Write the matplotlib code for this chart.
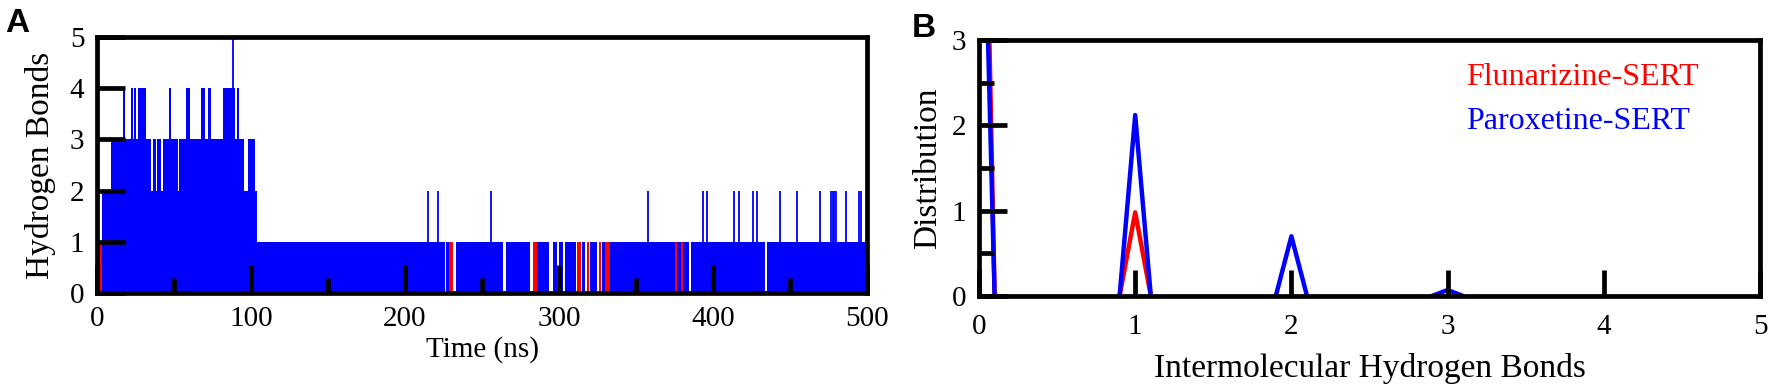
import numpy as np
import matplotlib.pyplot as plt
from matplotlib.ticker import MultipleLocator

# ---- Panel A: H-bond count vs time (step runs) ----
# Paroxetine-SERT, runs (start ns, end ns) at each level
parox_lvl2_runs = [(3.0, 103.7)]
parox_lvl3_runs = [(8.9, 35.0), (36.1, 38.3), (39.2, 41.3), (42.6, 52.4),
                   (53.5, 95.5), (98.3, 102.7)]
parox_lvl4_runs = [(16.7, 18.0), (22.0, 23.2), (24.3, 25.0), (26.8, 31.8),
                   (47.0, 48.3), (57.6, 60.4), (67.3, 70.1), (72.3, 73.8),
                   (82.0, 89.6), (91.1, 92.4)]
parox_lvl5_spikes = [88.5]
# level 1 from 103.7 ns to the end, with these drops to zero
parox_zero_gaps = [(225.8, 226.8), (228.5, 233.3), (263.8, 265.6), (281.2, 285.8),
                   (293.7, 295.9), (298.9, 300.2), (302.4, 303.9), (311.0, 314.8),
                   (316.9, 319.9), (324.5, 327.6), (329.6, 333.2), (375.2, 376.9),
                   (379.2, 380.8), (384.5, 386.0), (433.8, 435.3)]
parox_lvl2_spikes = [215.2, 221.6, 255.8, 358.0, 393.7, 396.4, 413.7, 417.0,
                     426.2, 428.4, 443.5, 454.7, 469.5, 476.8, 477.8, 478.8,
                     479.8, 486.4, 494.8, 496.0]
# Flunarizine-SERT, runs at 1 H-bond (0 elsewhere)
flun_lvl1_runs = [(0.0, 3.0), (228.8, 231.2), (283.3, 285.5), (311.5, 314.0),
                  (318.0, 319.7), (326.2, 327.2), (329.9, 333.1), (375.3, 376.9),
                  (379.2, 380.8)]

# ---- Panel B: distribution of intermolecular H-bonds (nonzero peaks only) ----
flun_x = [0.0, 0.1, np.nan, 0.9, 1.0, 1.1]
flun_y = [9.0, 0.0, np.nan, 0.0, 0.98, 0.0]
parox_x = [0.0, 0.1, np.nan, 0.9, 1.0, 1.1, np.nan, 1.9, 2.0, 2.1, np.nan, 2.9, 3.0, 3.1]
parox_y = [7.1, 0.0, np.nan, 0.0, 2.12, 0.0, np.nan, 0.0, 0.70, 0.0, np.nan, 0.0, 0.07, 0.0]

plt.rcParams['font.family'] = ['Liberation Serif', 'DejaVu Serif']

fig = plt.figure(figsize=(17.72, 3.85), dpi=100)
axA = fig.add_axes([97 / 1772, 1 - 293 / 385, 770 / 1772, 256 / 385])
axB = fig.add_axes([979 / 1772, 1 - 296 / 385, 781 / 1772, 256 / 385])


def draw_runs(ax, runs, level, color):
    lefts = [a for a, b in runs]
    widths = [b - a for a, b in runs]
    ax.bar(lefts, [level] * len(runs), width=widths, align='edge',
           color=color, linewidth=0)


# level-1 runs between the zero gaps
lvl1_runs = []
start = 103.7
for g0, g1 in parox_zero_gaps:
    lvl1_runs.append((start, g0))
    start = g1
lvl1_runs.append((start, 500.0))

draw_runs(axA, flun_lvl1_runs, 1, 'red')
draw_runs(axA, parox_lvl2_runs, 2, 'blue')
draw_runs(axA, parox_lvl3_runs, 3, 'blue')
draw_runs(axA, parox_lvl4_runs, 4, 'blue')
draw_runs(axA, lvl1_runs, 1, 'blue')
axA.vlines(parox_lvl2_spikes, 1, 2, color='blue', linewidth=1.3)
axA.vlines(parox_lvl5_spikes, 4, 5, color='blue', linewidth=1.3)

axA.set_xlim(0, 500)
axA.set_ylim(0, 5)
axA.xaxis.set_major_locator(MultipleLocator(100))
axA.xaxis.set_minor_locator(MultipleLocator(50))
axA.yaxis.set_major_locator(MultipleLocator(1))
axA.set_xlabel('Time (ns)', fontsize=21, labelpad=3)
axA.set_ylabel('Hydrogen Bonds', fontsize=24, labelpad=10)

axB.plot(flun_x, flun_y, color='red', linewidth=3.2)
axB.plot(parox_x, parox_y, color='blue', linewidth=3.2)
axB.set_xlim(0, 5)
axB.set_ylim(0, 3)
axB.xaxis.set_major_locator(MultipleLocator(1))
axB.yaxis.set_major_locator(MultipleLocator(1))
axB.yaxis.set_minor_locator(MultipleLocator(0.5))
axB.set_xlabel('Intermolecular Hydrogen Bonds', fontsize=24, labelpad=9)
axB.set_ylabel('Distribution', fontsize=24, labelpad=6)
axB.text(3.12, 2.56, 'Flunarizine-SERT', color='red', fontsize=23, va='center')
axB.text(3.12, 2.05, 'Paroxetine-SERT', color='blue', fontsize=23, va='center')

for ax in (axA, axB):
    ax.set_axisbelow(False)
    for sp in ax.spines.values():
        sp.set_linewidth(3.4)
    ax.tick_params(which='major', direction='in', length=20, width=3.4,
                   labelsize=21, top=False, right=False)
    ax.tick_params(which='minor', direction='in', length=11, width=3.4,
                   top=False, right=False)
axA.tick_params(axis='x', which='major', pad=9)
axA.tick_params(axis='y', which='major', pad=9)
axB.tick_params(axis='x', which='major', length=19, pad=13)
axB.tick_params(axis='y', which='major', pad=9)

fig.text(5 / 1772, 1 - 8 / 385, 'A', fontsize=24, fontweight='bold',
         family='Liberation Sans', va='top', ha='left')
fig.text(912 / 1772, 1 - 13 / 385, 'B', fontsize=24, fontweight='bold',
         family='Liberation Sans', va='top', ha='left')

fig.savefig('out.png', dpi=100)
